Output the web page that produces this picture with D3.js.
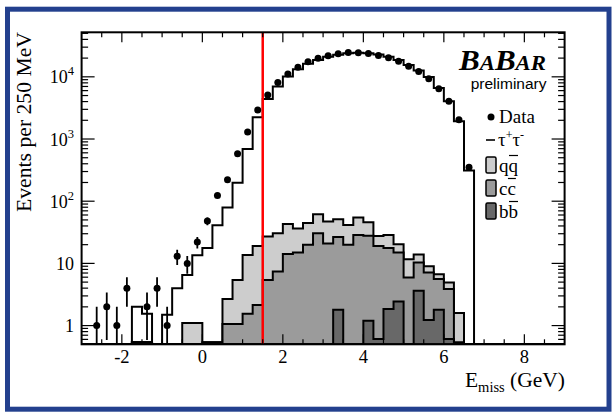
<!DOCTYPE html>
<html>
<head>
<meta charset="utf-8">
<script src="https://cdnjs.cloudflare.com/ajax/libs/d3/7.8.5/d3.min.js"></script>
<style>
  html, body { margin: 0; padding: 0; background: #fff; }
  svg { display: block; }
</style>
</head>
<body>
<svg id="chart" width="615" height="412"></svg>
<script>
// Missing-energy spectrum, 250 MeV bins from -3 GeV to 9 GeV (low edges)
const binLow = [
  -3.00, -2.75, -2.50, -2.25, -2.00, -1.75, -1.50, -1.25, -1.00, -0.75, -0.50, -0.25,
   0.00,  0.25,  0.50,  0.75,  1.00,  1.25,  1.50,  1.75,  2.00,  2.25,  2.50,  2.75,
   3.00,  3.25,  3.50,  3.75,  4.00,  4.25,  4.50,  4.75,  5.00,  5.25,  5.50,  5.75,
   6.00,  6.25,  6.50,  6.75,  7.00,  7.25,  7.50,  7.75,  8.00,  8.25,  8.50,  8.75
];
const binWidth = 0.25;

// Observed events per bin
const dataCounts = [
  0, 1, 2, 1, 4, 0, 2, 4, 1, 13, 10, 22,
  48, 124, 222, 580, 1300, 2930, 5120, 8100, 11100, 14300, 17400, 19900,
  21800, 23500, 24600, 24300, 23700, 22000, 20200, 17800, 14800, 12200, 9330, 6450,
  4030, 2040, 353, 0, 0, 0, 0, 0, 0, 0, 0, 0
];

// tau+tau- expectation
const tauCounts = [
  0, 0, 0, 0, 0, 2.0, 1.55, 0, 1.5, 4.0, 6.5, 13.5,
  17.6, 41, 79, 198, 694, 2240, 4400, 7000, 10150, 13300, 16200, 18700,
  21000, 22700, 24000, 24300, 24000, 22800, 21000, 18600, 15500, 12600, 9900, 6600,
  4030, 1930, 313, 0, 0, 0, 0, 0, 0, 0, 0, 0
];

// Continuum backgrounds (stacked: b-bbar at the bottom, then c-cbar, then light q-qbar)
const bbCounts = [
  0, 0, 0, 0, 0, 0.54, 0.54, 0, 0, 0, 0, 0,
  0, 0, 0, 0, 0, 0, 0, 0, 0, 0, 0, 0,
  0, 1.8, 0, 0, 1.2, 0.61, 1.85, 2.43, 0, 3.64, 1.23, 1.8,
  0.61, 0, 0, 0, 0, 0, 0, 0, 0, 0, 0, 0
];
const ccCounts = [
  0, 0, 0, 0, 0, 0, 0, 0, 0, 0, 0, 0,
  0.54, 0.54, 1.06, 1.06, 1.55, 2.15, 5.4, 7.4, 14.1, 15.0, 19.9, 30.6,
  20.9, 24.8, 19.9, 28.7, 26.5, 18.5, 15.75, 12.57, 5.95, 6.66, 5.92, 3.8,
  3.26, 0.54, 0, 0, 0, 0, 0, 0, 0, 0, 0, 0
];
const udsCounts = [
  0, 0, 0, 0, 0, 0, 0, 0, 0, 0, 1.1, 1.1,
  0, 0, 1.62, 4.34, 12.05, 16.95, 21.6, 23.2, 28.9, 21.5, 24.6, 31.0,
  26.1, 24.9, 21.7, 25.9, 18.3, 8.4, 11.1, 5.4, 5.75, 3.6, 1.85, 1.1,
  1.07, 1.06, 0, 0, 0, 0, 0, 0, 0, 0, 0, 0
];

const cutValue = 1.5;                       // E_miss selection cut (GeV)
const xTickLabels = [-2, 0, 2, 4, 6, 8];
const yTickLabels = [1, 10, 100, 1000, 10000];

const legendItems = [
  { kind: "marker", label: "Data" },
  { kind: "line",   label: "tau" },
  { kind: "box",    label: "qq", fill: "#cdcdcd" },
  { kind: "box",    label: "cc", fill: "#9b9b9b" },
  { kind: "box",    label: "bb", fill: "#686868" }
];

// ---------------------------------------------------------------------------
const svg = d3.select("#chart");
const serif = "'Liberation Serif', 'Times New Roman', serif";
const sans = "'Liberation Sans', Arial, sans-serif";

const frame = { left: 81.6, right: 564.6, top: 32.3, bottom: 344.3 };
const yMin = 0.5;
const x = d3.scaleLinear().domain([-3, 9]).range([frame.left, frame.right]);
const y = d3.scaleLog().domain([yMin, 52000]).range([frame.bottom, frame.top]);

// outer blue border
svg.append("rect")
  .attr("x", 7.5).attr("y", 9.2).attr("width", 601.5).attr("height", 400)
  .attr("fill", "#fff").attr("stroke", "#23408e").attr("stroke-width", 5);

svg.append("clipPath").attr("id", "plotclip")
  .append("rect")
  .attr("x", frame.left).attr("y", frame.top)
  .attr("width", frame.right - frame.left).attr("height", frame.bottom - frame.top);

const plotG = svg.append("g").attr("clip-path", "url(#plotclip)");

// step outline for a histogram: starts and ends on the lower frame edge
function stepPoints(values) {
  const pts = [[binLow[0], yMin]];
  values.forEach((v, i) => {
    pts.push([binLow[i], v]);
    pts.push([binLow[i] + binWidth, v]);
  });
  pts.push([binLow[binLow.length - 1] + binWidth, yMin]);
  return pts;
}
const stepLine = d3.line()
  .x(d => x(d[0]))
  .y(d => y(Math.max(d[1], yMin)));

// stacked backgrounds
const rows = binLow.map((lo, i) => ({ lo, bb: bbCounts[i], cc: ccCounts[i], uds: udsCounts[i] }));
const layers = d3.stack().keys(["bb", "cc", "uds"])(rows);
const layerFill = { uds: "#cdcdcd", cc: "#9b9b9b", bb: "#686868" };

["uds", "cc", "bb"].forEach(key => {
  const layer = layers.find(l => l.key === key);
  const tops = layer.map(d => d[1]);
  plotG.append("path")
    .attr("d", stepLine(stepPoints(tops)) + "Z")
    .attr("fill", layerFill[key])
    .attr("stroke", "#000")
    .attr("stroke-width", 2)
    .attr("stroke-linejoin", "miter");
});

// tau+tau- expectation
plotG.append("path")
  .attr("d", stepLine(stepPoints(tauCounts)))
  .attr("fill", "none")
  .attr("stroke", "#000")
  .attr("stroke-width", 2);

// selection cut
plotG.append("line")
  .attr("x1", x(cutValue)).attr("x2", x(cutValue))
  .attr("y1", frame.top).attr("y2", frame.bottom)
  .attr("stroke", "#ff0000").attr("stroke-width", 2.5);

// data points with sqrt(N) error bars
const pointsG = plotG.append("g");
binLow.forEach((lo, i) => {
  const n = dataCounts[i];
  if (n <= 0) return;
  const cx = x(lo + binWidth / 2);
  const err = Math.sqrt(n);
  pointsG.append("line")
    .attr("x1", cx).attr("x2", cx)
    .attr("y1", y(Math.max(n - err, yMin)))
    .attr("y2", y(n + err))
    .attr("stroke", "#000").attr("stroke-width", 1.8);
  pointsG.append("circle")
    .attr("cx", cx).attr("cy", y(n)).attr("r", 3.5).attr("fill", "#000");
});

// frame and ticks
const axG = svg.append("g");
axG.append("rect")
  .attr("x", frame.left).attr("y", frame.top)
  .attr("width", frame.right - frame.left).attr("height", frame.bottom - frame.top)
  .attr("fill", "none").attr("stroke", "#000").attr("stroke-width", 2);

x.ticks(24).forEach(t => {
  const major = Math.abs(t % 2) < 1e-9;
  const len = major ? 10 : 5;
  const px = x(t);
  if (px <= frame.left + 0.5 || px >= frame.right - 0.5) return;
  axG.append("line").attr("x1", px).attr("x2", px)
    .attr("y1", frame.bottom).attr("y2", frame.bottom - len)
    .attr("stroke", "#000").attr("stroke-width", 1.2);
  axG.append("line").attr("x1", px).attr("x2", px)
    .attr("y1", frame.top).attr("y2", frame.top + len)
    .attr("stroke", "#000").attr("stroke-width", 1.2);
});

y.ticks().forEach(t => {
  const major = yTickLabels.includes(t);
  const len = major ? 13 : 6.5;
  const py = y(t);
  if (py >= frame.bottom - 0.5 || py <= frame.top + 0.5) return;
  axG.append("line").attr("x1", frame.left).attr("x2", frame.left + len)
    .attr("y1", py).attr("y2", py).attr("stroke", "#000").attr("stroke-width", 1.2);
  axG.append("line").attr("x1", frame.right).attr("x2", frame.right - len)
    .attr("y1", py).attr("y2", py).attr("stroke", "#000").attr("stroke-width", 1.2);
});

// x tick labels
xTickLabels.forEach(t => {
  svg.append("text")
    .attr("x", x(t)).attr("y", 363)
    .attr("text-anchor", "middle")
    .attr("font-family", serif).attr("font-size", 18.5)
    .text(t < 0 ? "-" + Math.abs(t) : String(t));
});

// y tick labels (powers of ten)
yTickLabels.forEach(t => {
  const e = Math.round(Math.log10(t));
  const txt = svg.append("text")
    .attr("x", 74).attr("y", y(t) + 6.5)
    .attr("text-anchor", "end")
    .attr("font-family", serif).attr("font-size", 18);
  if (e <= 1) {
    txt.text(String(t));
  } else {
    txt.append("tspan").text("10");
    txt.append("tspan").attr("font-size", 12.5).attr("dy", -8).text(String(e));
  }
});

// axis titles
const xt = svg.append("text")
  .attr("x", 565).attr("y", 387)
  .attr("text-anchor", "end")
  .attr("font-family", serif).attr("font-size", 21.5);
xt.append("tspan").text("E");
xt.append("tspan").attr("font-size", 14.5).attr("dy", 5).text("miss");
xt.append("tspan").attr("dy", -5).text(" (GeV)");

svg.append("text")
  .attr("transform", "translate(30.5,32) rotate(-90)")
  .attr("text-anchor", "end")
  .attr("font-family", serif).attr("font-size", 21)
  .attr("textLength", 180).attr("lengthAdjust", "spacingAndGlyphs")
  .text("Events per 250 MeV");

// experiment logo
const logo = svg.append("text")
  .attr("x", 459).attr("y", 70)
  .attr("font-family", serif).attr("font-weight", "bold").attr("font-style", "italic")
  .attr("font-size", 30)
  .attr("textLength", 87).attr("lengthAdjust", "spacingAndGlyphs");
logo.append("tspan").text("B");
logo.append("tspan").attr("font-size", 22).text("A");
logo.append("tspan").text("B");
logo.append("tspan").attr("font-size", 22).text("AR");

svg.append("text")
  .attr("x", 546.5).attr("y", 88.5)
  .attr("text-anchor", "end")
  .attr("font-family", sans).attr("font-size", 15.5)
  .text("preliminary");

// legend
const legG = svg.append("g");
const legX = 486, textX = 499;
legendItems.forEach(item => {
  if (item.kind === "marker") {
    legG.append("circle").attr("cx", 491).attr("cy", 117).attr("r", 3.5).attr("fill", "#000");
    legG.append("text").attr("x", textX).attr("y", 123)
      .attr("font-family", serif).attr("font-size", 19).text(item.label);
  } else if (item.kind === "line") {
    legG.append("line").attr("x1", legX).attr("x2", legX + 9).attr("y1", 140).attr("y2", 140)
      .attr("stroke", "#000").attr("stroke-width", 1.6);
    const t = legG.append("text").attr("x", textX - 1).attr("y", 146)
      .attr("font-family", serif).attr("font-size", 19);
    t.append("tspan").text("\u03c4");
    t.append("tspan").attr("font-size", 12).attr("dy", -7).text("+");
    t.append("tspan").attr("dy", 7).text("\u03c4");
    t.append("tspan").attr("font-size", 12).attr("dy", -7).text("-");
  }
});
const boxItems = legendItems.filter(d => d.kind === "box");
boxItems.forEach((item, k) => {
  const top = 157 + k * 23;
  legG.append("rect").attr("x", legX).attr("y", top).attr("width", 10).attr("height", 16)
    .attr("rx", 1.5).attr("fill", item.fill).attr("stroke", "#000").attr("stroke-width", 1.5);
  const base = top + 15;
  const t = legG.append("text").attr("x", textX).attr("y", base)
    .attr("font-family", serif).attr("font-size", 19).text(item.label);
  // bar over the antiquark
  const node = t.node();
  const sx = node.getStartPositionOfChar(1).x;
  const w = node.getSubStringLength(1, 1);
  legG.append("line").attr("x1", sx + 0.5).attr("x2", sx + w)
    .attr("y1", base - 16.5).attr("y2", base - 16.5)
    .attr("stroke", "#000").attr("stroke-width", 1.2);
});
</script>
</body>
</html>
